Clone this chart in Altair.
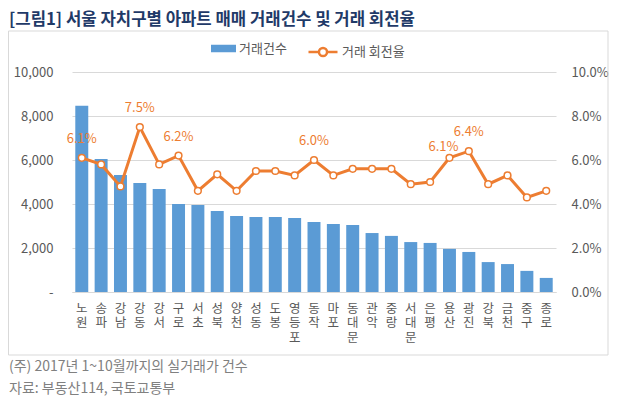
import altair as alt
import pandas as pd

districts = ['노원', '송파', '강남', '강동', '강서', '구로', '서초', '성북', '양천', '성동',
             '도봉', '영등포', '동작', '마포', '동대문', '관악', '중랑', '서대문', '은평', '용산',
             '광진', '강북', '금천', '중구', '종로']
counts = [8470, 6050, 5320, 4960, 4680, 4000, 3960, 3680, 3460, 3410,
          3410, 3360, 3180, 3090, 3050, 2680, 2550, 2270, 2230, 1960,
          1820, 1360, 1270, 960, 640]
rates = [6.1, 5.8, 4.8, 7.5, 5.8, 6.2, 4.6, 5.35, 4.6, 5.5,
         5.5, 5.3, 6.0, 5.3, 5.6, 5.6, 5.6, 4.9, 5.0, 6.1,
         6.4, 4.9, 5.3, 4.3, 4.6]
rate_labels = ['6.1%', '', '', '7.5%', '', '6.2%', '', '', '', '',
               '', '', '6.0%', '', '', '', '', '', '', '6.1%',
               '6.4%', '', '', '', '']
left_ticks = [0, 2000, 4000, 6000, 8000, 10000]
right_ticks = [0, 2, 4, 6, 8, 10]

title_text = "[그림1] 서울 자치구별 아파트 매매 거래건수 및 거래 회전율"
note_text = "(주) 2017년 1~10월까지의 실거래가 건수"
source_text = "자료: 부동산114, 국토교통부"
bar_name = '거래건수'
line_name = '거래 회전율'

FONT = 'Noto Sans CJK KR'
ORANGE = '#ED7D31'
BLUE = '#5B9BD5'
GRAY = '#595959'
GRID = '#D9D9D9'
TITLE = '#1F3A68'

df = pd.DataFrame({'district': districts, 'count': counts, 'rate': rates,
                   'label': rate_labels})
df['bar_series'] = bar_name
df['line_series'] = line_name

base = alt.Chart(df)

x_axis = alt.Axis(title=None, labelAngle=0, labelExpr="split(datum.label, '')",
                  labelLineHeight=14.5, labelPadding=10, ticks=False,
                  labelOverlap=False, labelBound=False,
                  domainColor=GRID, labelFontSize=12.5, labelColor=GRAY, labelFont=FONT)
x_scale = alt.Scale(paddingInner=0.33, paddingOuter=0.17)
x_enc = alt.X('district:N', sort=districts, scale=x_scale, axis=x_axis)

bars = base.mark_bar().encode(
    x=x_enc,
    y=alt.Y('count:Q', scale=alt.Scale(domain=[0, 10000], nice=False),
            axis=alt.Axis(title=None, values=left_ticks,
                          labelExpr="datum.value == 0 ? '-' : format(datum.value, ',')",
                          grid=True, gridColor=GRID, domain=False, ticks=False,
                          labelPadding=19, labelFontSize=13, labelColor=GRAY, labelFont=FONT)),
    color=alt.Color('bar_series:N', scale=alt.Scale(domain=[bar_name], range=[BLUE]),
                    legend=alt.Legend(title=None, orient='none', legendX=139, legendY=-36,
                                      symbolType='M-1,-0.3L1,-0.3L1,0.3L-1,0.3Z',
                                      symbolSize=625, symbolStrokeWidth=0,
                                      labelFontSize=13, labelColor=GRAY, labelFont=FONT,
                                      padding=0, labelOffset=3)),
)

y_right = alt.Y('rate:Q', scale=alt.Scale(domain=[0, 10], nice=False),
                axis=alt.Axis(title=None, orient='right', values=right_ticks,
                              labelExpr="format(datum.value, '.1f') + '%'",
                              grid=False, domain=False, ticks=False, labelPadding=15,
                              labelFontSize=13, labelColor=GRAY, labelFont=FONT))

line = base.mark_line(strokeWidth=3).encode(
    x=x_enc, y=y_right,
    color=alt.Color('line_series:N', scale=alt.Scale(domain=[line_name], range=[ORANGE]),
                    legend=alt.Legend(title=None, orient='none', legendX=235, legendY=-36,
                                      symbolType='M-1,0L-0.28,0M0.28,0L1,0M-0.28,0A0.28,0.28,0,1,1,0.28,0A0.28,0.28,0,1,1,-0.28,0',
                                      symbolSize=841, symbolStrokeWidth=2.5,
                                      symbolFillColor='white',
                                      labelFontSize=13, labelColor=GRAY, labelFont=FONT,
                                      padding=0, labelOffset=3)),
)
points = base.mark_point(shape='circle', filled=True, fill='white', stroke=ORANGE,
                         strokeWidth=1.5, size=45, opacity=1).encode(x=x_enc, y='rate:Q')
labels_main = base.transform_filter("datum.label != '' && datum.district != '용산'").mark_text(
    color=ORANGE, fontSize=13, dy=-19, font=FONT).encode(x=x_enc, y='rate:Q', text='label:N')
labels_side = base.transform_filter("datum.district == '용산'").mark_text(
    color=ORANGE, fontSize=13, dy=-11, dx=-6, font=FONT).encode(x=x_enc, y='rate:Q', text='label:N')

line_layer = alt.layer(line, points, labels_main, labels_side)

border = alt.Chart(pd.DataFrame({'a': [1]})).mark_rect(
    fillOpacity=0, stroke=GRID, strokeWidth=1).encode(
    x=alt.value(-63.5), x2=alt.value(536), y=alt.value(-41), y2=alt.value(283))

title = alt.Chart(pd.DataFrame({'t': [title_text]})).mark_text(
    align='left', baseline='middle', fontSize=16.7, fontWeight='bold', color=TITLE, font=FONT
).encode(x=alt.value(-63), y=alt.value(-52), text='t:N')
note = alt.Chart(pd.DataFrame({'t': [note_text]})).mark_text(
    align='left', baseline='middle', fontSize=14, color='#808080', font=FONT
).encode(x=alt.value(-63), y=alt.value(295), text='t:N')
source = alt.Chart(pd.DataFrame({'t': [source_text]})).mark_text(
    align='left', baseline='middle', fontSize=14, color='#808080', font=FONT
).encode(x=alt.value(-63), y=alt.value(317), text='t:N')

chart = alt.layer(border, bars, line_layer, title, note, source).resolve_scale(
    y='independent', color='independent'
).resolve_legend(color='independent').properties(
    width=484, height=220,
    autosize=alt.AutoSizeParams(type='none'),
    padding={'left': 64, 'top': 64, 'right': 53, 'bottom': 105},
).configure(font=FONT).configure_view(stroke=None)

chart.save("out.html", embed_options={"renderer": "svg", "actions": False})
